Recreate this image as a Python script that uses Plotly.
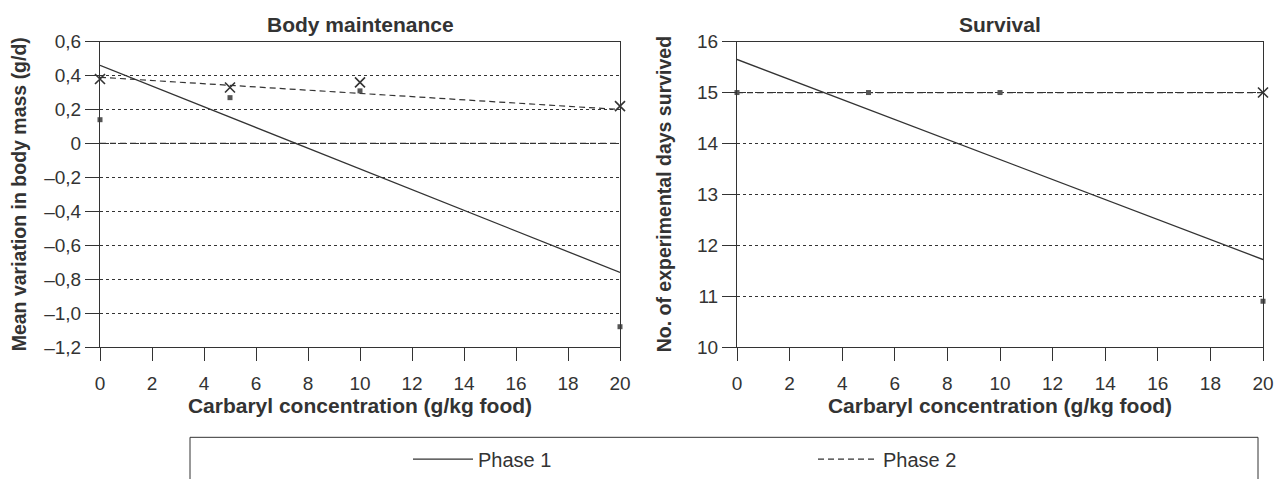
import plotly.graph_objects as go

# ---------------- data ----------------
conc = [0, 5, 10, 20]
trend_x = [0, 20]

# Body maintenance (g/d)
bm_phase1 = [0.14, 0.27, 0.31, -1.08]
bm_phase2 = [0.38, 0.33, 0.36, 0.22]
bm_trend1 = [0.46, -0.76]
bm_trend2 = [0.39, 0.20]

# Survival (days)
sv_phase1 = [15, 15, 15, 10.9]
sv_phase2_x = [20]
sv_phase2 = [15]
sv_trend1 = [15.65, 11.72]
sv_trend2 = [15, 15]

x_ticks = list(range(0, 21, 2))
bm_ticks = [0.6, 0.4, 0.2, 0, -0.2, -0.4, -0.6, -0.8, -1.0, -1.2]
bm_ticktext = ["0,6", "0,4", "0,2", "0", "\u20130,2", "\u20130,4", "\u20130,6",
               "\u20130,8", "\u20131,0", "\u20131,2"]
sv_ticks = [10, 11, 12, 13, 14, 15, 16]

W, H = 1274, 479
FONT = "Liberation Sans, Arial, sans-serif"
INK = "#333333"

def px(x):
    return x / W

def py(y):
    return 1 - y / H

fig = go.Figure()

sq = dict(symbol="square", size=5, color="#555555")
xm = dict(symbol="x-thin", size=10, line=dict(width=1.6, color=INK), color=INK)

# left panel
fig.add_trace(go.Scatter(x=trend_x, y=bm_trend1, mode="lines", name="Phase 1",
                         line=dict(color=INK, width=1.3), xaxis="x", yaxis="y",
                         legendrank=1))
fig.add_trace(go.Scatter(x=trend_x, y=bm_trend2, mode="lines", name="Phase 2",
                         line=dict(color=INK, width=1.2, dash="6px,4px"),
                         xaxis="x", yaxis="y", legendrank=2))
fig.add_trace(go.Scatter(x=conc, y=bm_phase1, mode="markers", marker=sq,
                         showlegend=False, cliponaxis=False, xaxis="x", yaxis="y"))
fig.add_trace(go.Scatter(x=conc, y=bm_phase2, mode="markers", marker=xm,
                         showlegend=False, cliponaxis=False, xaxis="x", yaxis="y"))

# right panel
fig.add_trace(go.Scatter(x=trend_x, y=sv_trend1, mode="lines", showlegend=False,
                         line=dict(color=INK, width=1.3), xaxis="x2", yaxis="y2"))
fig.add_trace(go.Scatter(x=trend_x, y=sv_trend2, mode="lines", showlegend=False,
                         line=dict(color=INK, width=1.2, dash="6px,4px"),
                         xaxis="x2", yaxis="y2"))
fig.add_trace(go.Scatter(x=conc, y=sv_phase1, mode="markers", marker=sq,
                         showlegend=False, cliponaxis=False, xaxis="x2", yaxis="y2"))
fig.add_trace(go.Scatter(x=sv_phase2_x, y=sv_phase2, mode="markers", marker=xm,
                         showlegend=False, cliponaxis=False, xaxis="x2", yaxis="y2"))

tickfont = dict(family=FONT, size=19, color=INK)
xtitlefont = dict(family=FONT, size=21, color=INK, weight="bold")
ytitlefont = dict(family=FONT, size=19.5, color=INK, weight="bold")

xcommon = dict(range=[0, 20], tickvals=x_ticks, ticks="outside", ticklen=13,
               tickcolor=INK, showline=True, linecolor=INK, linewidth=1,
               mirror=True, showgrid=False, zeroline=False, tickfont=tickfont,
               automargin=False, ticklabelstandoff=6,
               title=dict(text="Carbaryl concentration (g/kg food)",
                          font=xtitlefont, standoff=2))
ycommon = dict(ticks="outside", ticklen=14, tickcolor=INK, showline=True,
               linecolor=INK, linewidth=1, mirror=True, showgrid=True,
               gridcolor=INK, griddash="dot", gridwidth=1, zeroline=False,
               tickfont=tickfont, automargin=False)

y_dom = [py(350), py(42)]
fig.update_layout(
    width=W, height=H,
    margin=dict(l=0, r=0, t=0, b=0),
    paper_bgcolor="white", plot_bgcolor="white",
    font=dict(family=FONT, color=INK),
    xaxis=dict(domain=[px(100), px(620)], anchor="y", **xcommon),
    yaxis=dict(domain=y_dom, anchor="x", range=[-1.2, 0.6], tickvals=bm_ticks,
               ticktext=bm_ticktext, **ycommon),
    xaxis2=dict(domain=[px(737), px(1263)], anchor="y2", **xcommon),
    yaxis2=dict(domain=y_dom, anchor="x2", range=[10, 16], tickvals=sv_ticks,
                **ycommon),
    legend=dict(orientation="h", x=px(408), y=py(463), xanchor="left",
                yanchor="middle", font=dict(family=FONT, size=20, color=INK),
                entrywidth=330, entrywidthmode="pixels",
                bgcolor="rgba(0,0,0,0)", itemwidth=60),
    showlegend=True,
)

fig.add_shape(type="line", xref="x domain", yref="y", x0=0, x1=1, y0=0, y1=0,
              line=dict(color=INK, width=1.2, dash="6px,4px"))

fig.add_shape(type="rect", xref="paper", yref="paper", x0=px(190), x1=px(1258),
              y0=-0.05, y1=py(441), line=dict(color=INK, width=1),
              fillcolor="rgba(0,0,0,0)", layer="below")

fig.add_annotation(text="Body maintenance", xref="paper", yref="paper",
                   x=px(360), y=py(25), xanchor="center", yanchor="middle",
                   showarrow=False, font=xtitlefont)
fig.add_annotation(text="Survival", xref="paper", yref="paper",
                   x=px(1000), y=py(25), xanchor="center", yanchor="middle",
                   showarrow=False, font=xtitlefont)
fig.add_annotation(text="Mean variation in body mass (g/d)", xref="paper",
                   yref="paper", x=px(19), y=py(196), xanchor="center",
                   yanchor="middle", textangle=-90, showarrow=False,
                   font=ytitlefont)
fig.add_annotation(text="No. of experimental days survived", xref="paper",
                   yref="paper", x=px(664), y=py(196), xanchor="center",
                   yanchor="middle", textangle=-90, showarrow=False,
                   font=ytitlefont)

fig.write_html("out.html", config={"displayModeBar": False})

with open("out.html", "r", encoding="utf-8") as f:
    html = f.read()
html = html.replace("<body>", '<body style="margin:0;padding:0;overflow:hidden">', 1)
with open("out.html", "w", encoding="utf-8") as f:
    f.write(html)
